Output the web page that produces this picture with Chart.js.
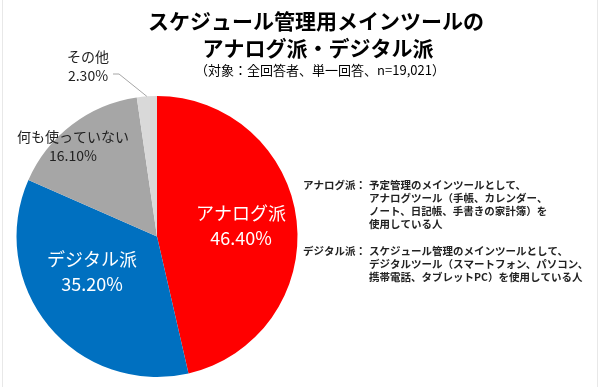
<!DOCTYPE html>
<html>
<head>
<meta charset="utf-8">
<script src="https://cdn.jsdelivr.net/npm/chart.js@4/dist/chart.umd.min.js"></script>
<style>
  html, body { margin: 0; padding: 0; background: #fff; }
  #wrap { width: 600px; height: 387px; position: relative; }
</style>
</head>
<body>
<div id="wrap"><canvas id="myChart"></canvas></div>
<script>
// データ
const categories = ['アナログ派', 'デジタル派', '何も使っていない', 'その他'];
const values = [46.4, 35.2, 16.1, 2.3];
const colors = ['#FF0000', '#0070C0', '#A6A6A6', '#D9D9D9'];
const titleLines = ['スケジュール管理用メインツールの', 'アナログ派・デジタル派'];
const subtitle = '（対象：全回答者、単一回答、n=19,021）';
const notes = [
  ['アナログ派：', ['予定管理のメインツールとして、', 'アナログツール（手帳、カレンダー、', 'ノート、日記帳、手書きの家計簿）を', '使用している人']],
  ['デジタル派：', ['スケジュール管理のメインツールとして、', 'デジタルツール（スマートフォン、パソコン、', '携帯電話、タブレットPC）を使用している人']]
];

const font = '"Noto Sans CJK JP", "Noto Sans", sans-serif';

// ラベルの位置（x, y, 色, 文字サイズ）
const labelPos = [
  [241, 226, '#fff', 18],
  [92, 272, '#fff', 18],
  [73, 146, '#222', 14],
  [88, 66, '#222', 14]
];

// ラベルと説明文を描く
const textPlugin = {
  id: 'textPlugin',
  afterDraw(chart) {
    const ctx = chart.ctx;
    const arcs = chart.getDatasetMeta(0).data;
    ctx.save();
    ctx.textAlign = 'center';
    ctx.textBaseline = 'middle';

    // タイトル
    ctx.fillStyle = '#000';
    ctx.font = 'bold 21px ' + font;
    ctx.fillText(titleLines[0], 316, 21);
    ctx.fillText(titleLines[1], 318, 48);
    ctx.font = '13px ' + font;
    ctx.fillText(subtitle, 320, 70);

    // 各スライスのラベル
    arcs.forEach((arc, i) => {
      const [x, y, color, size] = labelPos[i];
      ctx.fillStyle = color;
      ctx.font = size + 'px ' + font;
      ctx.fillText(categories[i], x, y - size * 0.7);
      ctx.fillText(values[i].toFixed(2) + '%', x, y + size * 0.7);

      if (i === 3) {
        // 引き出し線
        const mid = (arc.startAngle + arc.endAngle) / 2;
        const ex = arc.x + Math.cos(mid) * arc.outerRadius;
        const ey = arc.y + Math.sin(mid) * arc.outerRadius;
        ctx.strokeStyle = '#A6A6A6';
        ctx.lineWidth = 1;
        ctx.beginPath();
        ctx.moveTo(113, 74);
        ctx.lineTo(119, 74);
        ctx.lineTo(ex, ey);
        ctx.stroke();
      }
    });

    // 右側の注記
    ctx.textAlign = 'left';
    ctx.fillStyle = '#222';
    ctx.font = 'bold 10.5px ' + font;
    let y = 185;
    notes.forEach(n => {
      ctx.fillText(n[0], 303, y);
      n[1].forEach(line => {
        ctx.fillText(line, 369, y);
        y += 13;
      });
      y += 14;
    });

    // うすい枠
    ctx.strokeStyle = '#E8E8E8';
    ctx.strokeRect(2.5, -1, 595, 389);
    ctx.restore();
  }
};

const ctx = document.getElementById('myChart');

new Chart(ctx, {
  type: 'pie',
  data: {
    labels: categories,
    datasets: [{
      data: values,
      backgroundColor: colors,
      borderWidth: 0
    }]
  },
  options: {
    responsive: true,
    maintainAspectRatio: false,
    animation: false,
    layout: {
      padding: { left: 16, right: 302, top: 96, bottom: 10 }
    },
    plugins: {
      legend: { display: false },
      tooltip: { enabled: false }
    }
  },
  plugins: [textPlugin]
});
</script>
</body>
</html>
